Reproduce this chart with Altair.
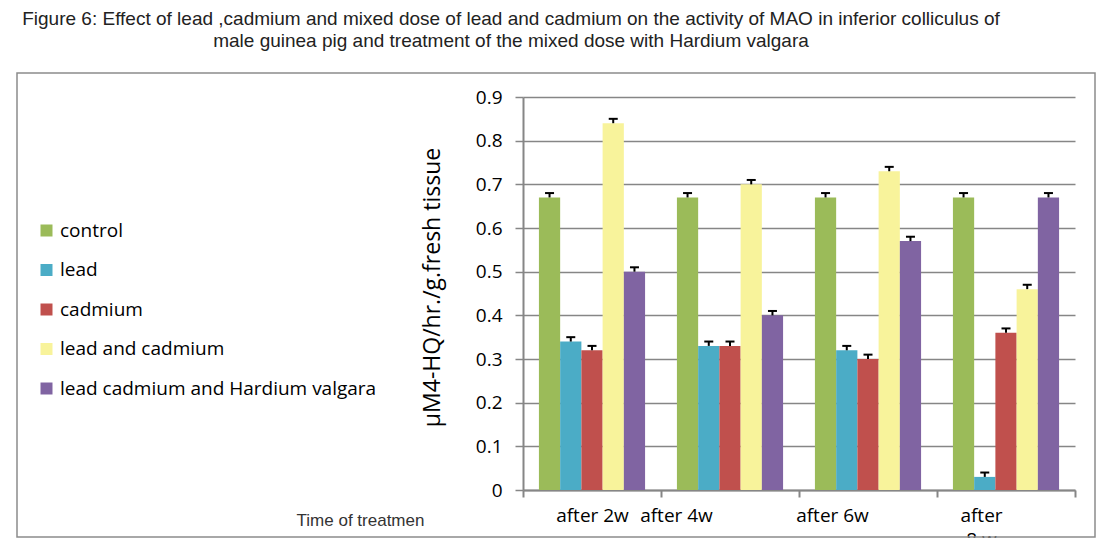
import altair as alt
import pandas as pd

groups = ["after 2w", "after 4w", "after 6w", "after 8w"]
series_names = ["control", "lead", "cadmium", "lead and cadmium",
                "lead cadmium and Hardium valgara"]
control = [0.67, 0.67, 0.67, 0.67]
lead = [0.34, 0.33, 0.32, 0.03]
cadmium = [0.32, 0.33, 0.30, 0.36]
lead_cadmium = [0.84, 0.70, 0.73, 0.46]
lead_cadmium_hv = [0.50, 0.40, 0.57, 0.67]
err_control = [0.01, 0.01, 0.01, 0.01]
err_lead = [0.01, 0.01, 0.01, 0.01]
err_cadmium = [0.01, 0.01, 0.01, 0.01]
err_lead_cadmium = [0.01, 0.01, 0.01, 0.01]
err_lead_cadmium_hv = [0.01, 0.01, 0.01, 0.01]
colors = ["#9BBB59", "#4BACC6", "#C0504D", "#F8F39B", "#8064A2"]
y_ticks = [0, 0.1, 0.2, 0.3, 0.4, 0.5, 0.6, 0.7, 0.8, 0.9]

values = [control, lead, cadmium, lead_cadmium, lead_cadmium_hv]
errs = [err_control, err_lead, err_cadmium, err_lead_cadmium, err_lead_cadmium_hv]
rows = []
for s, vals, es in zip(series_names, values, errs):
    for g, v, e in zip(groups, vals, es):
        rows.append({"group": g, "series": s, "value": v, "upper": v + e})
df = pd.DataFrame(rows)

W, H = 552, 393
FONT = "Open Sans"

x_enc = alt.X(
    "group:N", sort=groups,
    scale=alt.Scale(paddingInner=0, paddingOuter=0),
    axis=alt.Axis(
        labelAngle=0, labelFont=FONT, labelFontSize=19, labelColor="#000",
        labelPadding=9, labelLineHeight=24,
        labelExpr="datum.label == 'after 8w' ? ['after', '8 w'] : datum.label",
        labelOffset={"condition": [
            {"test": "datum.value == 'after 2w'", "value": 0},
            {"test": "datum.value == 'after 4w'", "value": -54},
            {"test": "datum.value == 'after 6w'", "value": -36}],
            "value": -25},
        domainColor="#868686", domainWidth=2,
        tickColor="#868686", tickWidth=2, tickSize=7, tickBand="extent",
        grid=False,
        title="Time of treatmen", titleFont="Liberation Sans",
        titleFontSize=17, titleFontWeight="normal", titleColor="#333",
        titleX=-163, titleY=30, titleAlign="center", titleBaseline="middle",
    ),
)
xoff_enc = alt.XOffset("series:N", sort=series_names,
                       scale=alt.Scale(paddingOuter=0.75, paddingInner=0))
y_axis = alt.Axis(
    values=y_ticks, format=".1~f",
    labelFont=FONT, labelFontSize=19, labelColor="#000", labelPadding=13,
    domainColor="#868686", domainWidth=2,
    tickColor="#868686", tickWidth=1.5, tickSize=8,
    gridColor="#868686", gridWidth=1.5,
    title="µM4-HQ/hr./g.fresh tissue", titleFont=FONT, titleFontSize=23,
    titleFontWeight="normal", titleColor="#000",
    titleX=-91, titleY=190, titleAngle=270, titleAlign="center",
    titleBaseline="middle",
)
y_scale = alt.Scale(domain=[0, 0.9], nice=False)

frame = alt.Chart(pd.DataFrame({"k": [0]})).mark_rect(
    fillOpacity=0, stroke="#8c8c8c", strokeWidth=1.5
).encode(x=alt.value(-506), x2=alt.value(572), y=alt.value(-24), y2=alt.value(440))

bars = alt.Chart(df).mark_bar().encode(
    x=x_enc, xOffset=xoff_enc,
    y=alt.Y("value:Q", scale=y_scale, axis=y_axis),
    color=alt.Color(
        "series:N", sort=series_names,
        scale=alt.Scale(domain=series_names, range=colors),
        legend=alt.Legend(
            title=None, orient="none", legendX=-486, legendY=124,
            symbolType="square", symbolSize=144, symbolStrokeWidth=0,
            symbolOpacity=1, padding=0,
            labelFont=FONT, labelFontSize=19, labelColor="#000",
            labelOffset=4, rowPadding=19.5, labelLimit=400,
        ),
    ),
)

err_rule = alt.Chart(df).mark_rule(color="black", strokeWidth=2).encode(
    x=x_enc, xOffset=xoff_enc, y=alt.Y("value:Q", scale=y_scale), y2="upper:Q"
)
err_cap = alt.Chart(df).mark_tick(
    color="black", thickness=2, size=9, orient="horizontal", opacity=1
).encode(x=x_enc, xOffset=xoff_enc, y=alt.Y("upper:Q", scale=y_scale))

chart = alt.layer(frame, bars, err_rule, err_cap).properties(
    width=W, height=H,
    autosize=alt.AutoSizeParams(type="none"),
    padding={"left": 515, "top": 89, "right": 23, "bottom": 48},
    title=alt.Title(
        text=["Figure 6: Effect of lead ,cadmium and  mixed dose of lead and cadmium on the activity of MAO in inferior colliculus  of",
              "male  guinea pig and treatment of the mixed dose with Hardium valgara"],
        anchor="middle", frame="group", dx=-288, fontSize=19,
        fontWeight="normal", font="Liberation Sans",
        color="#222", lineHeight=22, offset=21,
    ),
).configure_view(strokeWidth=0)

chart.save("out.html", embed_options={"renderer": "svg", "actions": False})
